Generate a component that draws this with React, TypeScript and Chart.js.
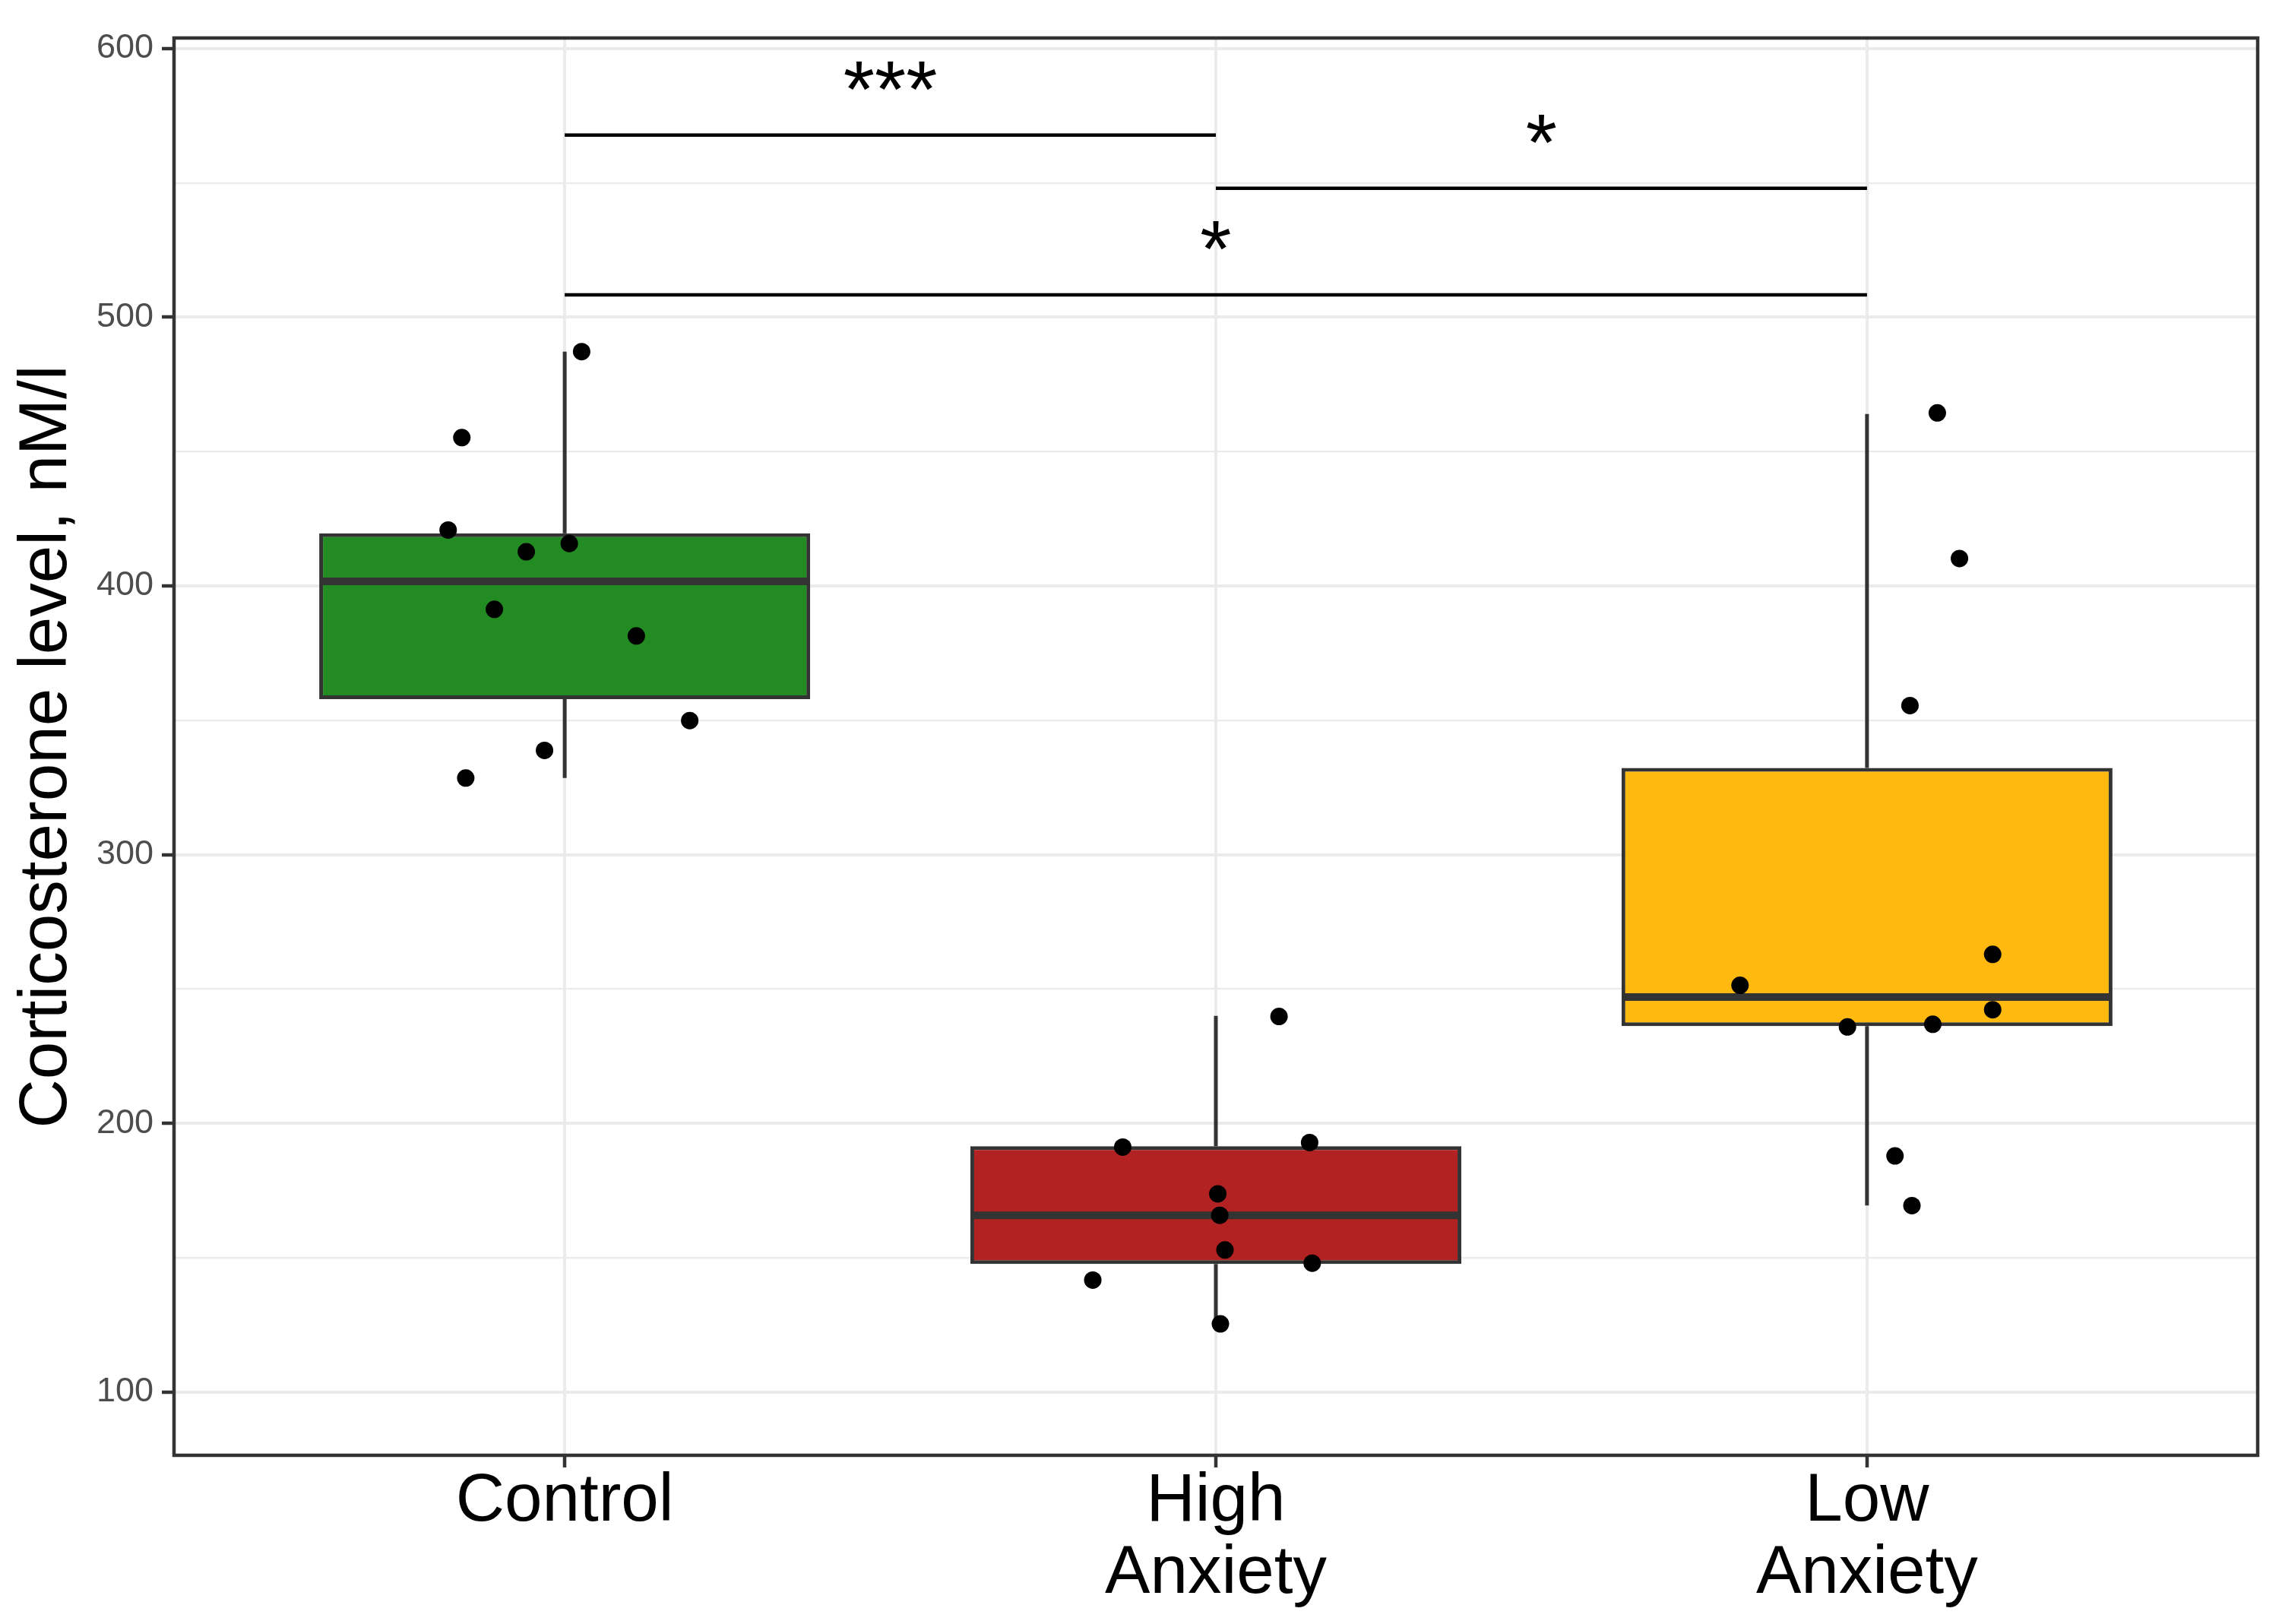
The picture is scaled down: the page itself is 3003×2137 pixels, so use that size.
import React, { useEffect, useRef } from 'react';
import { Chart, registerables } from 'chart.js';

Chart.register(...registerables);

const FONT = '"Liberation Sans", Arial, Helvetica, sans-serif';

// ---- categories / groups ----
const CATEGORIES: string[][] = [['Control'], ['High', 'Anxiety'], ['Low', 'Anxiety']];
const GROUP_POS = [1, 2, 3];
const BOX_COLORS = ['#228B22', '#B22222', '#FFB90F'];

// ---- box statistics ----
const WHISKER_LOW = [328.5, 125.3, 169.5];
const Q1 = [357.9, 147.7, 236.2];
const MEDIAN = [401.7, 165.8, 247.0];
const Q3 = [419.6, 191.5, 332.3];
const WHISKER_HIGH = [487.2, 240.0, 464.0];

// ---- individual (jittered) observations ----
const CONTROL_X = [1.026, 0.842, 0.821, 0.941, 1.007, 0.892, 1.110, 1.192, 0.969, 0.848];
const CONTROL_Y = [487.2, 455.2, 420.8, 412.7, 415.8, 391.3, 381.4, 349.9, 338.8, 328.5];
const HIGH_X = [2.097, 1.857, 2.144, 2.003, 2.006, 2.014, 1.811, 2.148, 2.007];
const HIGH_Y = [239.8, 191.2, 192.9, 173.8, 165.8, 152.9, 141.7, 148.0, 125.4];
const LOW_X = [3.108, 3.142, 3.066, 3.193, 2.805, 3.193, 2.970, 3.101, 3.043, 3.069];
const LOW_Y = [464.4, 410.2, 355.5, 262.9, 251.4, 242.3, 235.9, 236.9, 187.9, 169.4];

// ---- significance brackets ----
const BRACKET_FROM = [1, 2, 1];
const BRACKET_TO = [2, 3, 3];
const BRACKET_Y = [567.8, 548.0, 508.3];
const BRACKET_LABELS = ['***', '*', '*'];

// ---- axes ----
const Y_TICKS = [100, 150, 200, 250, 300, 350, 400, 450, 500, 550, 600];
const Y_MIN = 76.5;
const Y_MAX = 603.9;
const X_MIN = 0.4;
const X_MAX = 3.6;
const BOX_WIDTH = 0.75;
const Y_TITLE = 'Corticosterone level, nM/l';

const GRID = '#EBEBEB';
const DARK = '#333333';

function buildWhiskers() {
  const d: any[] = [];
  GROUP_POS.forEach((p, i) => {
    d.push({ x: p, y: WHISKER_LOW[i] }, { x: p, y: Q1[i] }, { x: p, y: null });
    d.push({ x: p, y: Q3[i] }, { x: p, y: WHISKER_HIGH[i] }, { x: p, y: null });
  });
  return d;
}

function buildMedians() {
  const d: any[] = [];
  GROUP_POS.forEach((p, i) => {
    d.push({ x: p - BOX_WIDTH / 2, y: MEDIAN[i] }, { x: p + BOX_WIDTH / 2, y: MEDIAN[i] }, { x: p, y: null });
  });
  return d;
}

function buildPoints() {
  const d: any[] = [];
  CONTROL_X.forEach((x, i) => d.push({ x, y: CONTROL_Y[i] }));
  HIGH_X.forEach((x, i) => d.push({ x, y: HIGH_Y[i] }));
  LOW_X.forEach((x, i) => d.push({ x, y: LOW_Y[i] }));
  return d;
}

function buildBrackets() {
  const d: any[] = [];
  BRACKET_Y.forEach((y, i) => {
    d.push({ x: BRACKET_FROM[i], y }, { x: BRACKET_TO[i], y }, { x: BRACKET_TO[i], y: null });
  });
  return d;
}

const overlayPlugin = {
  id: 'overlay',
  afterDatasetsDraw(chart: any) {
    const { ctx } = chart;
    const x = chart.scales.x;
    const y = chart.scales.y;
    ctx.save();
    ctx.fillStyle = '#000000';
    ctx.font = `106px ${FONT}`;
    ctx.textAlign = 'center';
    ctx.textBaseline = 'alphabetic';
    BRACKET_LABELS.forEach((lab, i) => {
      const cx = x.getPixelForValue((BRACKET_FROM[i] + BRACKET_TO[i]) / 2);
      const cy = y.getPixelForValue(BRACKET_Y[i]) - 24;
      ctx.fillText(lab, cx, cy);
    });
    ctx.restore();
  },
  afterDraw(chart: any) {
    const { ctx, chartArea } = chart;
    ctx.save();
    ctx.strokeStyle = DARK;
    ctx.lineWidth = 4.5;
    ctx.strokeRect(chartArea.left, chartArea.top, chartArea.right - chartArea.left, chartArea.bottom - chartArea.top);
    ctx.restore();
  },
};

export default function App() {
  const ref = useRef<HTMLCanvasElement | null>(null);

  useEffect(() => {
    document.body.style.margin = '0';
    document.body.style.background = '#ffffff';
    if (!ref.current) return;
    Chart.defaults.font.family = FONT;

    const chart = new Chart(ref.current, {
      type: 'bar',
      data: {
        datasets: [
          {
            type: 'line',
            data: buildBrackets(),
            borderColor: '#000000',
            borderWidth: 4.5,
            borderCapStyle: 'butt',
            pointRadius: 0,
            fill: false,
            spanGaps: false,
            order: 0,
          } as any,
          {
            type: 'scatter',
            data: buildPoints(),
            pointRadius: 11.5,
            pointBackgroundColor: '#000000',
            pointBorderWidth: 0,
            order: 1,
          } as any,
          {
            type: 'line',
            data: buildMedians(),
            borderColor: DARK,
            borderWidth: 10,
            borderCapStyle: 'butt',
            pointRadius: 0,
            fill: false,
            spanGaps: false,
            order: 2,
          } as any,
          {
            type: 'line',
            data: buildWhiskers(),
            borderColor: DARK,
            borderWidth: 5,
            borderCapStyle: 'butt',
            pointRadius: 0,
            fill: false,
            spanGaps: false,
            order: 3,
          } as any,
          {
            type: 'bar',
            data: GROUP_POS.map((p, i) => ({ x: p, y: [Q1[i], Q3[i]] })),
            backgroundColor: BOX_COLORS,
            borderColor: DARK,
            borderWidth: 5,
            borderSkipped: false,
            barPercentage: BOX_WIDTH + 0.004,
            categoryPercentage: 1,
            order: 4,
          } as any,
        ],
      },
      options: {
        responsive: false,
        animation: false,
        devicePixelRatio: 1,
        layout: { padding: { top: 50, right: 32, left: 0, bottom: 0 } },
        plugins: {
          legend: { display: false },
          tooltip: { enabled: false },
          title: { display: false },
        },
        scales: {
          x: {
            type: 'linear',
            min: X_MIN,
            max: X_MAX,
            offset: false,
            afterBuildTicks: (scale: any) => {
              scale.ticks = GROUP_POS.map((v) => ({ value: v }));
            },
            afterFit: (scale: any) => {
              scale.height = 222;
            },
            grid: {
              offset: false,
              color: GRID,
              lineWidth: 4,
              tickColor: DARK,
              tickWidth: 4.5,
              tickLength: 16,
              drawTicks: true,
            },
            border: { display: false },
            ticks: {
              autoSkip: false,
              maxRotation: 0,
              minRotation: 0,
              padding: -2,
              color: '#000000',
              font: { size: 89, family: FONT, lineHeight: 1.07 },
              callback: (v: any) => {
                const idx = GROUP_POS.indexOf(Number(v));
                return idx >= 0 ? CATEGORIES[idx] : '';
              },
            },
          },
          y: {
            type: 'linear',
            min: Y_MIN,
            max: Y_MAX,
            beginAtZero: false,
            afterBuildTicks: (scale: any) => {
              scale.ticks = Y_TICKS.map((v) => ({ value: v }));
            },
            afterFit: (scale: any) => {
              scale.width = 229;
            },
            grid: {
              color: GRID,
              lineWidth: (c: any) => (c.tick && c.tick.value % 100 === 0 ? 4 : 2.2),
              tickColor: (c: any) => (c.tick && c.tick.value % 100 === 0 ? DARK : 'rgba(0,0,0,0)'),
              tickWidth: 4.5,
              tickLength: 16,
              drawTicks: true,
            },
            border: { display: false },
            ticks: {
              autoSkip: false,
              padding: 11,
              color: '#4D4D4D',
              font: { size: 45, family: FONT },
              callback: (v: any) => (Number(v) % 100 === 0 ? String(v) : ''),
            },
            title: {
              display: true,
              text: Y_TITLE,
              color: '#000000',
              font: { size: 89, family: FONT, lineHeight: 1 },
              padding: { top: 17.5, bottom: 0 },
            },
          },
        },
      } as any,
      plugins: [overlayPlugin],
    });

    return () => chart.destroy();
  }, []);

  return (
    <canvas
      ref={ref}
      width={3003}
      height={2137}
      style={{ display: 'block', width: '3003px', height: '2137px' }}
    />
  );
}
